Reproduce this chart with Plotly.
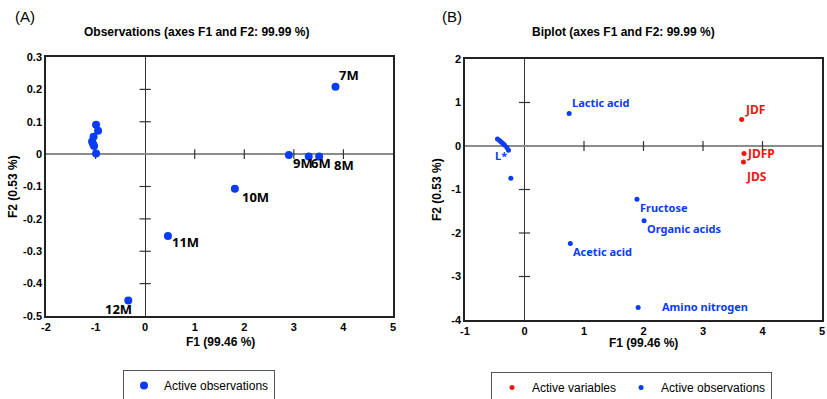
import plotly.graph_objects as go

# ---------------- Panel A: observations ----------------
obs_labels_a = ["", "", "", "", "", "", "", "7M", "9M", "6M", "8M", "10M", "11M", "12M"]
obs_f1_a = [-0.99, -0.95, -1.04, -1.07, -1.05, -1.03, -0.99, 3.84, 2.90, 3.30, 3.51, 1.81, 0.46, -0.34]
obs_f2_a = [0.091, 0.072, 0.054, 0.039, 0.031, 0.025, 0.002, 0.208, -0.003, -0.007, -0.007, -0.107, -0.253, -0.452]

a_xticks = [-2, -1, 0, 1, 2, 3, 4, 5]
a_xticktext = ["-2", "-1", "0", "1", "2", "3", "4", "5"]
a_yticks = [-0.5, -0.4, -0.3, -0.2, -0.1, 0, 0.1, 0.2, 0.3]
a_yticktext = ["-0.5", "-0.4", "-0.3", "-0.2", "-0.1", "0", "0.1", "0.2", "0.3"]
a_zero_xmarks = [-1, 1, 2, 3, 4]
a_zero_ymarks = [-0.4, -0.3, -0.2, -0.1, 0.1, 0.2]

# ---------------- Panel B: biplot ----------------
var_labels_b = ["JDF", "JDFP", "JDS"]
var_f1_b = [3.65, 3.69, 3.68]
var_f2_b = [0.61, -0.175, -0.37]

obs_labels_b = ["Lactic acid", "Fructose", "Organic acids", "Acetic acid", "Amino nitrogen",
                "", "", "", "", "", "", "L*", ""]
obs_f1_b = [0.75, 1.89, 2.01, 0.77, 1.91,
            -0.454, -0.420, -0.392, -0.363, -0.336, -0.296, -0.269, -0.23]
obs_f2_b = [0.745, -1.225, -1.72, -2.24, -3.71,
            0.161, 0.124, 0.092, 0.055, 0.023, -0.037, -0.099, -0.74]

b_xticks = [-1, 0, 1, 2, 3, 4, 5]
b_xticktext = ["-1", "0", "1", "2", "3", "4", "5"]
b_yticks = [-4, -3, -2, -1, 0, 1, 2]
b_yticktext = ["-4", "-3", "-2", "-1", "0", "1", "2"]
b_zero_xmarks = [1, 2, 3, 4]
b_zero_ymarks = [-3, -2, -1, 1]

# label placement (style): anchor, xshift, yshift in px
label_offsets = {
    "7M": ("left", 1, 12), "9M": ("left", 2, -8), "6M": ("left", 0, -7),
    "8M": ("left", 13, -9), "10M": ("left", 5, -8), "11M": ("left", 2, -6),
    "12M": ("right", 6, -9),
    "Lactic acid": ("left", 1, 11), "Fructose": ("left", 1, -8),
    "Organic acids": ("left", 1, -8), "Acetic acid": ("left", 1, -8),
    "Amino nitrogen": ("left", 22, 1), "L*": ("right", 1, -5),
    "JDF": ("left", 1, 10), "JDFP": ("left", 1, 0), "JDS": ("left", 1, -14),
}

BLUE = "#0a3cf5"
RED = "#f01414"
AX = "Liberation Sans, Arial, sans-serif"
LBL = "Noto Sans, DejaVu Sans, sans-serif"

fig = go.Figure()

# zero-line tick marks
fig.add_trace(go.Scatter(x=a_zero_xmarks, y=[0] * len(a_zero_xmarks), mode="markers",
                         marker=dict(symbol="line-ns", size=7, line=dict(width=1.2, color="#333")),
                         xaxis="x", yaxis="y", showlegend=False, hoverinfo="skip"))
fig.add_trace(go.Scatter(x=[0] * len(a_zero_ymarks), y=a_zero_ymarks, mode="markers",
                         marker=dict(symbol="line-ew", size=8, line=dict(width=1.2, color="#333")),
                         xaxis="x", yaxis="y", showlegend=False, hoverinfo="skip"))
fig.add_trace(go.Scatter(x=b_zero_xmarks, y=[0] * len(b_zero_xmarks), mode="markers",
                         marker=dict(symbol="line-ns", size=7, line=dict(width=1.2, color="#333")),
                         xaxis="x2", yaxis="y2", showlegend=False, hoverinfo="skip"))
fig.add_trace(go.Scatter(x=[0] * len(b_zero_ymarks), y=b_zero_ymarks, mode="markers",
                         marker=dict(symbol="line-ew", size=8, line=dict(width=1.2, color="#333")),
                         xaxis="x2", yaxis="y2", showlegend=False, hoverinfo="skip"))

# panel A points
fig.add_trace(go.Scatter(x=obs_f1_a, y=obs_f2_a, mode="markers", name="Active observations",
                         marker=dict(size=8, color=BLUE), xaxis="x", yaxis="y", legend="legend"))
# panel B points
fig.add_trace(go.Scatter(x=var_f1_b, y=var_f2_b, mode="markers", name="Active variables",
                         marker=dict(size=5, color=RED), xaxis="x2", yaxis="y2", legend="legend2"))
fig.add_trace(go.Scatter(x=obs_f1_b, y=obs_f2_b, mode="markers", name="Active observations",
                         marker=dict(size=5, color=BLUE), xaxis="x2", yaxis="y2", legend="legend2"))

annotations = []
for lab, xv, yv in zip(obs_labels_a, obs_f1_a, obs_f2_a):
    if lab:
        anc, dx, dy = label_offsets[lab]
        annotations.append(dict(x=xv, y=yv, xref="x", yref="y", text=lab, showarrow=False,
                                xanchor=anc, yanchor="middle", xshift=dx, yshift=dy,
                                font=dict(family=LBL, size=13, color="black", weight="bold")))
for lab, xv, yv in zip(obs_labels_b, obs_f1_b, obs_f2_b):
    if lab:
        anc, dx, dy = label_offsets[lab]
        annotations.append(dict(x=xv, y=yv, xref="x2", yref="y2", text=lab, showarrow=False,
                                xanchor=anc, yanchor="middle", xshift=dx, yshift=dy,
                                font=dict(family=LBL, size=11, color=BLUE, weight="bold")))
for lab, xv, yv in zip(var_labels_b, var_f1_b, var_f2_b):
    anc, dx, dy = label_offsets[lab]
    annotations.append(dict(x=xv, y=yv, xref="x2", yref="y2", text=lab, showarrow=False,
                            xanchor=anc, yanchor="middle", xshift=dx, yshift=dy,
                            font=dict(family=LBL, size=12, color=RED, weight="bold")))

W, H = 827, 399


def px(x):
    return x / W


def py(y):
    return 1 - y / H


titles = [
    ("(A)", 25, 16, 15, "normal", 0),
    ("(B)", 452, 16, 15, "normal", 0),
    ("Observations (axes F1 and F2: 99.99 %)", 196, 32, 12, "bold", 0),
    ("Biplot (axes F1 and F2: 99.99 %)", 623, 32, 12, "bold", 0),
    ("F1 (99.46 %)", 220, 342, 12, "bold", 0),
    ("F1 (99.46 %)", 643, 343, 12, "bold", 0),
    ("F2 (0.53 %)", 13, 187, 12, "bold", -90),
    ("F2 (0.53 %)", 437, 190, 12, "bold", -90),
]
for t, x, y, s, w, rot in titles:
    annotations.append(dict(x=px(x), y=py(y), xref="paper", yref="paper", text=t, showarrow=False,
                            xanchor="center", yanchor="middle", textangle=rot,
                            font=dict(family=AX, size=s, color="black", weight=w)))

axis_common = dict(showgrid=False, showline=True, mirror=True, linecolor="#222", linewidth=1.5,
                   ticks="", tickfont=dict(family=AX, size=11, color="black", weight="bold"),
                   zeroline=True, automargin=False, layer="above traces")

fig.update_layout(
    template="none",
    width=W, height=H, margin=dict(l=0, r=0, t=0, b=0, pad=0, autoexpand=False),
    paper_bgcolor="white", plot_bgcolor="white",
    xaxis=dict(domain=[px(46), px(393)], range=[-2, 5], tickvals=a_xticks, ticktext=a_xticktext,
               anchor="y", zerolinecolor="#333", zerolinewidth=1, **axis_common),
    yaxis=dict(domain=[py(316), py(57)], range=[-0.5, 0.3], tickvals=a_yticks, ticktext=a_yticktext,
               anchor="x", zerolinecolor="#8c8c8c", zerolinewidth=1.5, **axis_common),
    xaxis2=dict(domain=[px(465), px(822)], range=[-1, 5], tickvals=b_xticks, ticktext=b_xticktext,
                anchor="y2", zerolinecolor="#333", zerolinewidth=1, **axis_common),
    yaxis2=dict(domain=[py(320), py(59)], range=[-4, 2], tickvals=b_yticks, ticktext=b_yticktext,
                anchor="x2", zerolinecolor="#8c8c8c", zerolinewidth=1.5, **axis_common),
    legend=dict(x=px(123), y=py(370), xanchor="left", yanchor="top", orientation="h",
                bordercolor="#555", borderwidth=1, bgcolor="white", itemwidth=30,
                font=dict(family=AX, size=12, color="black")),
    legend2=dict(x=px(491), y=py(372), xanchor="left", yanchor="top", orientation="h",
                 bordercolor="#555", borderwidth=1, bgcolor="white", itemwidth=30,
                 font=dict(family=AX, size=12, color="black")),
    annotations=annotations,
    showlegend=True,
)

fig.write_html("out.html", config={"displayModeBar": False},
               post_script="document.body.style.margin='0';document.body.style.padding='0';")
